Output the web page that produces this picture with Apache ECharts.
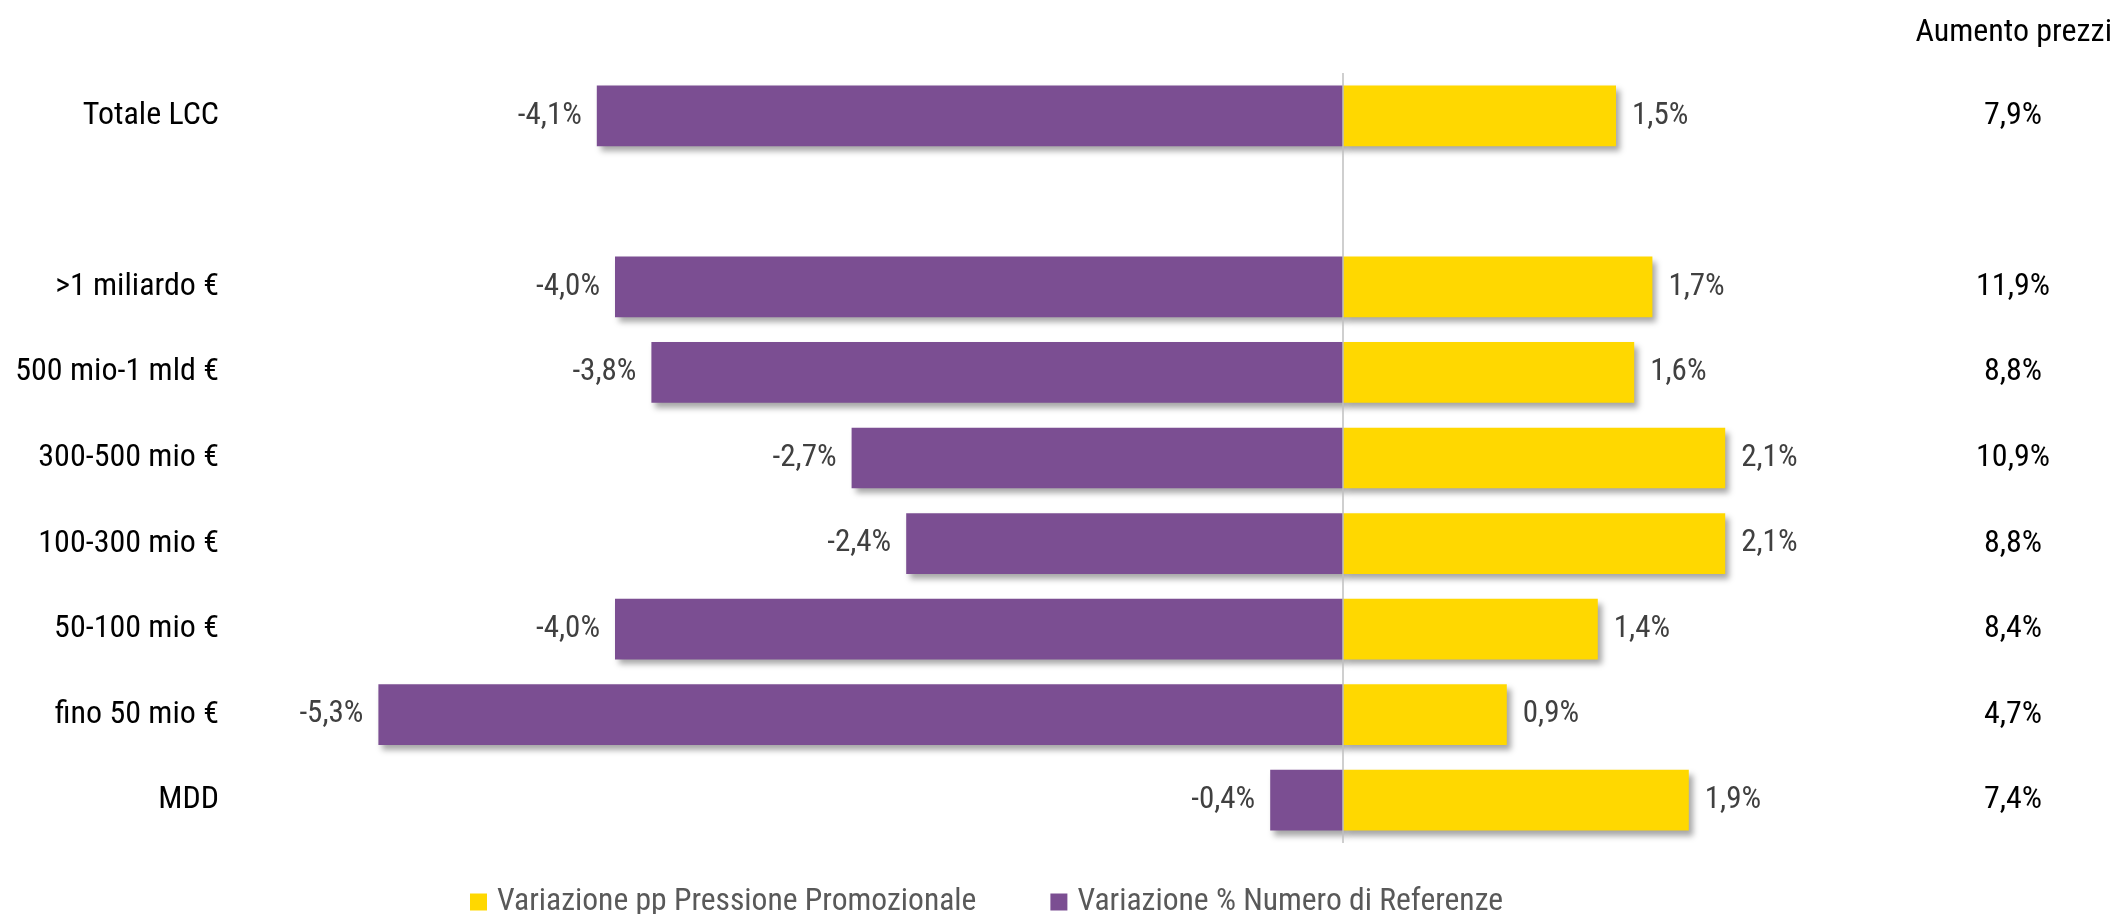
<!DOCTYPE html>
<html>
<head>
<meta charset="utf-8">
<script src="https://cdn.jsdelivr.net/npm/echarts@6/dist/echarts.min.js"></script>
<style>
html,body{margin:0;padding:0;background:#fff;}
#chart{width:2116px;height:914px;}
</style>
</head>
<body>
<div id="chart"></div>
<script>
const categories = ['Totale LCC', '', '>1 miliardo €', '500 mio-1 mld €', '300-500 mio €', '100-300 mio €', '50-100 mio €', 'fino 50 mio €', 'MDD'];
const referenze = [-4.1, null, -4.0, -3.8, -2.7, -2.4, -4.0, -5.3, -0.4];
const promozione = [1.5, null, 1.7, 1.6, 2.1, 2.1, 1.4, 0.9, 1.9];
const aumentoPrezzi = [7.9, null, 11.9, 8.8, 10.9, 8.8, 8.4, 4.7, 7.4];
const seriesNames = ['Variazione pp Pressione Promozionale', 'Variazione % Numero di Referenze'];
const aumentoTitle = 'Aumento prezzi';

const FONT = '"Roboto Condensed", "Liberation Sans Narrow", "Open Sans Condensed", "Roboto", sans-serif';
const FSTYLE = 'condensed';
const fmt = v => (v === null || v === undefined) ? '' : v.toFixed(1).replace('.', ',') + '%';
const shadow = { shadowBlur: 6, shadowOffsetX: 4, shadowOffsetY: 5, shadowColor: 'rgba(0,0,0,0.35)' };

const chart = echarts.init(document.getElementById('chart'));
chart.setOption({
  animation: false,
  backgroundColor: '#ffffff',
  textStyle: { fontFamily: FONT, fontStyle: FSTYLE },
  title: {
    text: aumentoTitle,
    right: -1,
    top: 12,
    textStyle: { fontFamily: FONT, fontStyle: FSTYLE, fontSize: 32, fontWeight: 'normal', color: '#000' }
  },
  legend: {
    data: seriesNames,
    left: 465,
    top: 881,
    icon: 'rect',
    itemWidth: 17,
    itemHeight: 17,
    itemGap: 74,
    textStyle: { fontFamily: FONT, fontStyle: FSTYLE, fontSize: 31.6, color: '#595959', padding: [0, 0, 0, 5] }
  },
  grid: { left: 251, right: 227, top: 73, bottom: 71, containLabel: false, outerBoundsMode: 'none' },
  xAxis: {
    type: 'value',
    min: -6,
    max: 3,
    show: false,
    splitLine: { show: false }
  },
  yAxis: [
    {
      type: 'category',
      data: categories,
      inverse: true,
      position: 'left',
      axisLine: { show: false },
      axisTick: { show: false },
      axisLabel: { margin: 32, fontFamily: FONT, fontStyle: FSTYLE, fontSize: 32, color: '#000' }
    },
    {
      type: 'category',
      data: categories,
      inverse: true,
      position: 'right',
      axisLine: { show: false },
      axisTick: { show: false },
      axisLabel: {
        margin: 124,
        align: 'center',
        fontFamily: FONT,
        fontStyle: FSTYLE,
        fontSize: 32,
        color: '#000',
        formatter: (val, idx) => fmt(aumentoPrezzi[idx])
      }
    }
  ],
  series: [
    {
      name: seriesNames[0],
      type: 'bar',
      stack: 'tot',
      data: promozione,
      barWidth: '71%',
      itemStyle: Object.assign({ color: '#FFD800' }, shadow),
      label: { show: true, position: 'right', distance: 16, fontFamily: FONT, fontStyle: FSTYLE, fontSize: 31, color: '#404040', formatter: p => fmt(p.value) },
      z: 3
    },
    {
      name: seriesNames[1],
      type: 'bar',
      stack: 'tot',
      data: referenze,
      barWidth: '71%',
      itemStyle: Object.assign({ color: '#7B4E92' }, shadow),
      label: { show: true, position: 'left', distance: 15, fontFamily: FONT, fontStyle: FSTYLE, fontSize: 31, color: '#404040', formatter: p => fmt(p.value) },
      markLine: {
        silent: true,
        symbol: ['none', 'none'],
        label: { show: false },
        lineStyle: { color: '#BFBFBF', width: 1.5, type: 'solid' },
        data: [{ xAxis: 0 }]
      },
      z: 2
    }
  ]
});
</script>
</body>
</html>
